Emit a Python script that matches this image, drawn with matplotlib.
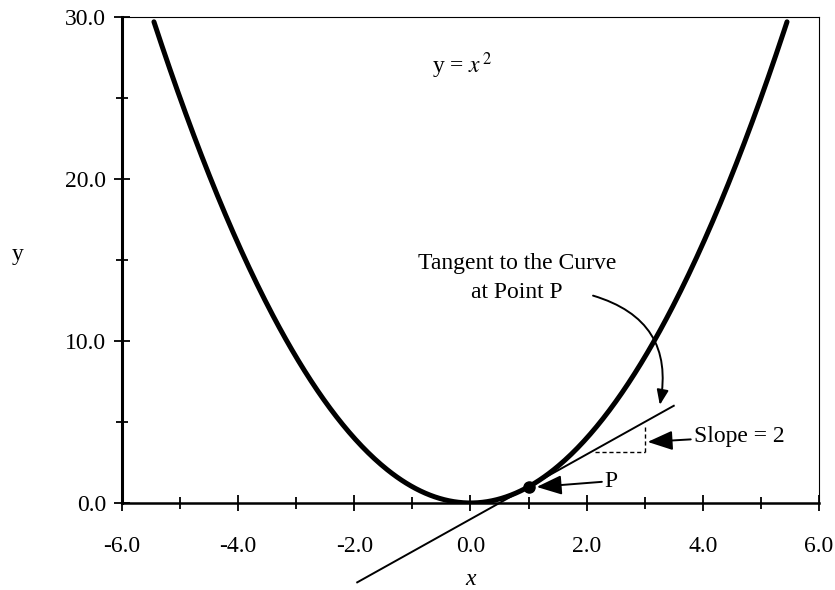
import numpy as np
import matplotlib
matplotlib.use('Agg')
import matplotlib.pyplot as plt
from matplotlib.ticker import MultipleLocator, FormatStrFormatter

plt.rcParams['font.family'] = ['Liberation Serif', 'DejaVu Serif']
plt.rcParams['mathtext.fontset'] = 'stix'

# curve and tangent data
curve_x = np.linspace(-5.45, 5.45, 400)
curve_y = curve_x ** 2
tangent_x = [-1.95, 3.5]
tangent_slope = 2.0
tangent_icpt = -1.0
point_p = (1.0, 1.0)
slope_h = ([2.15, 3.0], [3.15, 3.15])
slope_v = ([3.0, 3.0], [3.15, 4.8])

x_ticks = [-6.0, -4.0, -2.0, 0.0, 2.0, 4.0, 6.0]
y_ticks = [0.0, 10.0, 20.0, 30.0]

fig = plt.figure(figsize=(8.35, 5.9), dpi=100)
ax = fig.add_axes([0.1461, 0.1475, 0.8347, 0.8237])

ax.plot(curve_x, curve_y, color='black', lw=3.6, solid_capstyle='round', zorder=3)
ty = [tangent_slope * v + tangent_icpt for v in tangent_x]
ax.plot(tangent_x, ty, color='black', lw=1.4, clip_on=False, zorder=3)
ax.plot(*slope_h, color='black', lw=1.0, ls=(0, (3, 2)))
ax.plot(*slope_v, color='black', lw=1.0, ls=(0, (3, 2)))
ax.plot(*point_p, 'o', color='black', ms=8, zorder=4)

ax.set_xlim(-6, 6)
ax.set_ylim(0, 30)
ax.set_xticks(x_ticks)
ax.set_yticks(y_ticks)
ax.xaxis.set_minor_locator(MultipleLocator(1))
ax.yaxis.set_minor_locator(MultipleLocator(5))
ax.xaxis.set_major_formatter(FormatStrFormatter('%.1f'))
ax.yaxis.set_major_formatter(FormatStrFormatter('%.1f'))
ax.tick_params(which='major', direction='inout', length=11, width=1.3,
               labelsize=17, pad=6)
ax.tick_params(which='minor', direction='inout', length=8, width=1.3)
ax.tick_params(axis='x', pad=18)

ax.spines['left'].set_linewidth(2.2)
ax.spines['bottom'].set_linewidth(1.8)
ax.spines['top'].set_linewidth(0.8)
ax.spines['right'].set_linewidth(0.8)

ax.set_xlabel('x', fontsize=17, style='italic', labelpad=9)
ax.set_ylabel('y', fontsize=17, rotation=0, labelpad=0)
ax.yaxis.set_label_coords(-0.15, 0.49)

ax.text(-0.66, 27.0, r'y = $\mathit{x}^{\,2}$', fontsize=17, va='center', ha='left')
ax.text(0.8, 13.9, 'Tangent to the Curve\nat Point P', fontsize=17,
        ha='center', va='center', linespacing=1.5)

arrow_kw = dict(arrowstyle='-|>,head_length=0.9,head_width=0.35',
                color='black', lw=1.4, shrinkA=0, shrinkB=0)
ax.annotate('', xy=(3.26, 6.05), xytext=(2.11, 12.8),
            arrowprops=dict(connectionstyle='arc3,rad=-0.45', **arrow_kw))
ax.annotate('Slope = 2', xy=(3.05, 3.77), xytext=(3.84, 4.1), fontsize=17,
            va='center', ha='left', arrowprops=arrow_kw)
ax.annotate('P', xy=(1.14, 0.99), xytext=(2.31, 1.35), fontsize=17,
            va='center', ha='left', arrowprops=arrow_kw)

fig.savefig('out.png', dpi=100)
